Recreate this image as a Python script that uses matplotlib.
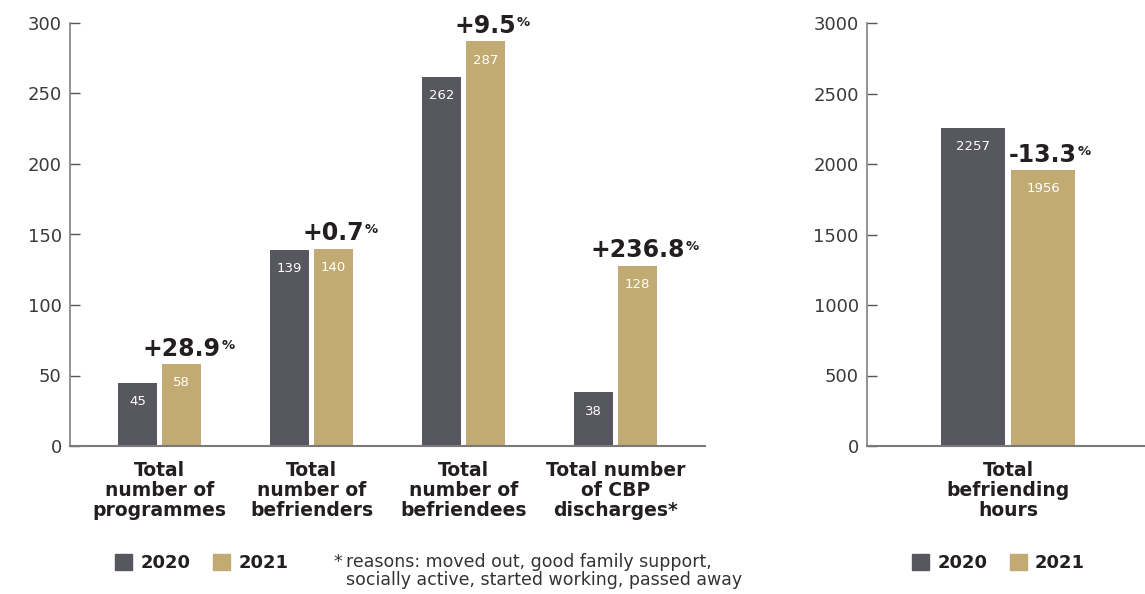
import matplotlib
matplotlib.use("Agg")
import matplotlib.pyplot as plt
from matplotlib.patches import Patch

# ---- data ----
categories = ["Total\nnumber of\nprogrammes", "Total\nnumber of\nbefrienders",
              "Total\nnumber of\nbefriendees", "Total number\nof CBP\ndischarges*"]
values_2020 = [45, 139, 262, 38]
values_2021 = [58, 140, 287, 128]
changes = ["+28.9", "+0.7", "+9.5", "+236.8"]

hours_category = ["Total\nbefriending\nhours"]
hours_2020 = [2257]
hours_2021 = [1956]
hours_change = ["-13.3"]

left_ticks = [0, 50, 100, 150, 200, 250, 300]
right_ticks = [0, 500, 1000, 1500, 2000, 2500, 3000]
years = ["2020", "2021"]
footnote = ["reasons: moved out, good family support,", "socially active, started working, passed away"]

# ---- style ----
C20 = "#575760"
C21 = "#c2ab72"
TXT = "#231f20"
plt.rcParams['font.family'] = ['DejaVu Sans']

W, H = 1145, 594
fig = plt.figure(figsize=(W / 100, H / 100), dpi=100)

def add_ax(x0, x1, y_top=23, y_bot=446):
    return fig.add_axes([x0 / W, (H - y_bot) / H, (x1 - x0) / W, (y_bot - y_top) / H])

def style_axis(ax, ticks):
    for s in ["top", "right"]:
        ax.spines[s].set_visible(False)
    ax.spines["left"].set_color("#8a8a8a")
    ax.spines["left"].set_linewidth(1.3)
    ax.spines["bottom"].set_color("#7a7a7a")
    ax.spines["bottom"].set_linewidth(1.5)
    ax.set_yticks(ticks)
    ax.set_ylim(ticks[0], ticks[-1])
    ax.tick_params(axis="y", direction="in", length=7.5, width=1, color="#555555",
                   labelsize=13, labelcolor="#3a3a3a", pad=6)
    ax.tick_params(axis="x", length=0, pad=11)

def pct_label(ax, x, y, txt):
    t = ax.annotate(txt, xy=(x, y), xytext=(0, 2.5), textcoords="offset points",
                    ha="center", va="bottom", fontsize=17, fontweight="bold", color=TXT)
    ax.annotate("%", xy=(1, 0.92), xycoords=t, xytext=(0.5, 0), textcoords="offset points",
                ha="left", va="top", fontsize=9.5, fontweight="bold", color=TXT)

def value_label(ax, x, y, v):
    ax.annotate(str(v), xy=(x, y), xytext=(0, -13.5), textcoords="offset points",
                ha="center", va="center", fontsize=9.5, color="white")

# ---- left chart ----
ax1 = add_ax(70, 705)
xs = list(range(len(categories)))
bw, off = 0.26, 0.145
ax1.bar([x - off for x in xs], values_2020, width=bw, color=C20)
ax1.bar([x + off for x in xs], values_2021, width=bw, color=C21)
ax1.set_xlim(-0.59, 3.59)
style_axis(ax1, left_ticks)
ax1.set_xticks(xs)
ax1.set_xticklabels(categories, fontsize=13.5, fontweight="bold", color=TXT, linespacing=1.05,
                    va="top")
for x, a, b, c in zip(xs, values_2020, values_2021, changes):
    value_label(ax1, x - off, a, a)
    value_label(ax1, x + off, b, b)
    pct_label(ax1, x + off, b, c)

# ---- right chart ----
ax2 = add_ax(867, 1145)
bw2, off2 = 0.32, 0.175
ax2.bar([-off2], hours_2020, width=bw2, color=C20)
ax2.bar([off2], hours_2021, width=bw2, color=C21)
ax2.set_xlim(-0.705, 0.685)
style_axis(ax2, right_ticks)
ax2.set_xticks([0])
ax2.set_xticklabels(hours_category, fontsize=13.5, fontweight="bold", color=TXT, linespacing=1.05,
                    va="top")
value_label(ax2, -off2, hours_2020[0], hours_2020[0])
value_label(ax2, off2, hours_2021[0], hours_2021[0])
pct_label(ax2, off2, hours_2021[0], hours_change[0])

# ---- legends ----
handles = [Patch(color=C20, label=years[0]), Patch(color=C21, label=years[1])]
for x0 in (115, 912):
    fig.legend(handles=handles, loc="center left", bbox_to_anchor=(x0 / W, (H - 563) / H),
               ncol=2, frameon=False, borderpad=0, borderaxespad=0,
               handlelength=0.95, handleheight=1.0, handletextpad=0.45, columnspacing=1.25,
               prop={"size": 13, "weight": "bold"}, labelcolor=TXT)

# ---- footnote ----
fig.text(333 / W, (H - 553) / H, "*", ha="left", va="top", fontsize=12.5, color="#333333")
fig.text(346 / W, (H - 553) / H, "\n".join(footnote), ha="left", va="top", fontsize=12.5,
         color="#333333", linespacing=1.0)

fig.savefig("out.png", dpi=100)
